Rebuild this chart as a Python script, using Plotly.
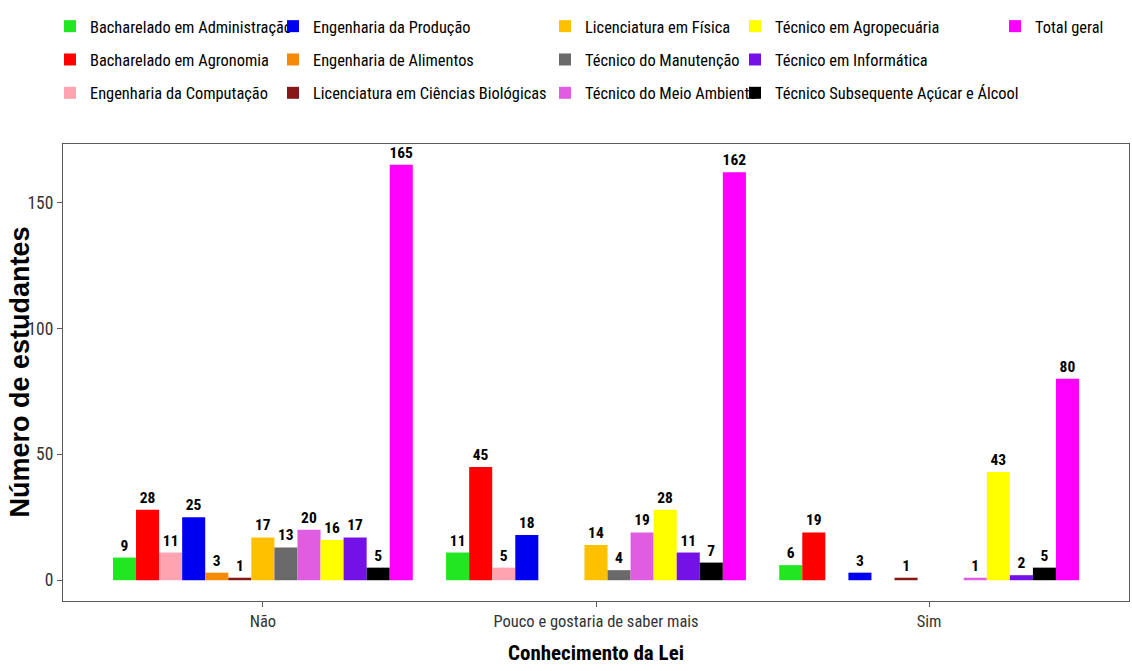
import plotly.graph_objects as go

categories = ["Não", "Pouco e gostaria de saber mais", "Sim"]

courses = [
    "Bacharelado em Administração",
    "Bacharelado em Agronomia",
    "Engenharia da Computação",
    "Engenharia da Produção",
    "Engenharia de Alimentos",
    "Licenciatura em Ciências Biológicas",
    "Licenciatura em Física",
    "Técnico do Manutenção",
    "Técnico do Meio Ambiente",
    "Técnico em Agropecuária",
    "Técnico em Informática",
    "Técnico Subsequente Açúcar e Álcool",
    "Total geral",
]

# values per course for [Não, Pouco..., Sim]; None = no bar
adm = [9, 11, 6]
agro = [28, 45, 19]
comp = [11, 5, None]
prod = [25, 18, 3]
alim = [3, None, None]
bio = [1, None, 1]
fis = [17, 14, None]
manut = [13, 4, None]
meio = [20, 19, 1]
agropec = [16, 28, 43]
info = [17, 11, 2]
subseq = [5, 7, 5]
total = [165, 162, 80]

values = [adm, agro, comp, prod, alim, bio, fis, manut, meio, agropec, info, subseq, total]

colors = [
    "#22E622", "#FF0000", "#FFA3B1", "#0000F0", "#F58A07", "#861818",
    "#FFC000", "#696969", "#E05CE0", "#FFFF00", "#7411E6", "#000000", "#FF00FF",
]

x_title = "Conhecimento da Lei"
y_title = "Número de estudantes"

NARROW = "Liberation Sans Narrow, Arial Narrow, Roboto Condensed, DejaVu Sans Condensed, sans-serif"
REG = "Liberation Sans, Arial, sans-serif"

fig = go.Figure()
for i, (name, vals, col) in enumerate(zip(courses, values, colors)):
    leg_col = min(i // 3, 4)
    legend_id = "legend" if leg_col == 0 else f"legend{leg_col + 1}"
    fig.add_trace(go.Bar(
        x=categories,
        y=vals,
        name=name,
        marker=dict(color=col, line=dict(width=0)),
        texttemplate="%{y}",
        textposition="outside",
        textfont=dict(family=NARROW, size=15.5, color="#000000", weight="bold"),
        cliponaxis=False,
        constraintext="none",
        legend=legend_id,
        legendgroup=name,
    ))

text_starts = [90, 313, 585, 775, 1035]
W, H = 1132, 671
legend_common = dict(
    xref="container", yref="container",
    xanchor="left", yanchor="top",
    orientation="v",
    font=dict(family=NARROW, size=16.4, color="#000000"),
    bgcolor="rgba(0,0,0,0)",
    borderwidth=0,
    traceorder="grouped",
    tracegroupgap=9,
    itemwidth=30,
)
legends = {}
for k, xs in enumerate(text_starts):
    key = "legend" if k == 0 else f"legend{k + 1}"
    legends[key] = dict(legend_common, x=(xs - 40) / W, y=1 - 9 / H)

L, R, T, B = 63, 3, 144, 70
plot_w = W - L - R

fig.update_layout(
    width=W, height=H,
    autosize=False,
    barmode="group",
    bargap=0.1,
    bargroupgap=0,
    plot_bgcolor="#FFFFFF",
    paper_bgcolor="#FFFFFF",
    margin=dict(l=L, r=R, t=T, b=B, autoexpand=False),
    annotations=[dict(
        text=y_title, textangle=-90,
        xref="paper", yref="paper",
        x=-(L - 19) / plot_w, y=0.5,
        xanchor="center", yanchor="middle",
        showarrow=False,
        font=dict(family=REG, size=27, color="#000000", weight="bold"),
    )],
    **legends,
)

fig.update_xaxes(
    type="category",
    range=[-0.6, 2.6],
    showline=True, mirror=True, linecolor="#5A5A5A", linewidth=1.3,
    ticks="outside", ticklen=5, tickcolor="#5A5A5A", tickwidth=1.2,
    tickfont=dict(family=NARROW, size=16.5, color="#333333"),
    showgrid=False, zeroline=False,
    title=dict(text=x_title,
               font=dict(family=NARROW, size=21, color="#000000", weight="bold")),
    automargin=False,
)
fig.update_yaxes(
    range=[-8.25, 173.25],
    tickvals=[0, 50, 100, 150],
    showline=True, mirror=True, linecolor="#5A5A5A", linewidth=1.3,
    ticks="outside", ticklen=5, tickcolor="#5A5A5A", tickwidth=1.2,
    tickfont=dict(family=NARROW, size=17.5, color="#333333"),
    showgrid=False, zeroline=False,
    automargin=False,
)

fig.write_html(
    "out.html",
    config={"displayModeBar": False},
    post_script="document.body.style.margin='0';document.body.style.overflow='hidden';",
)
